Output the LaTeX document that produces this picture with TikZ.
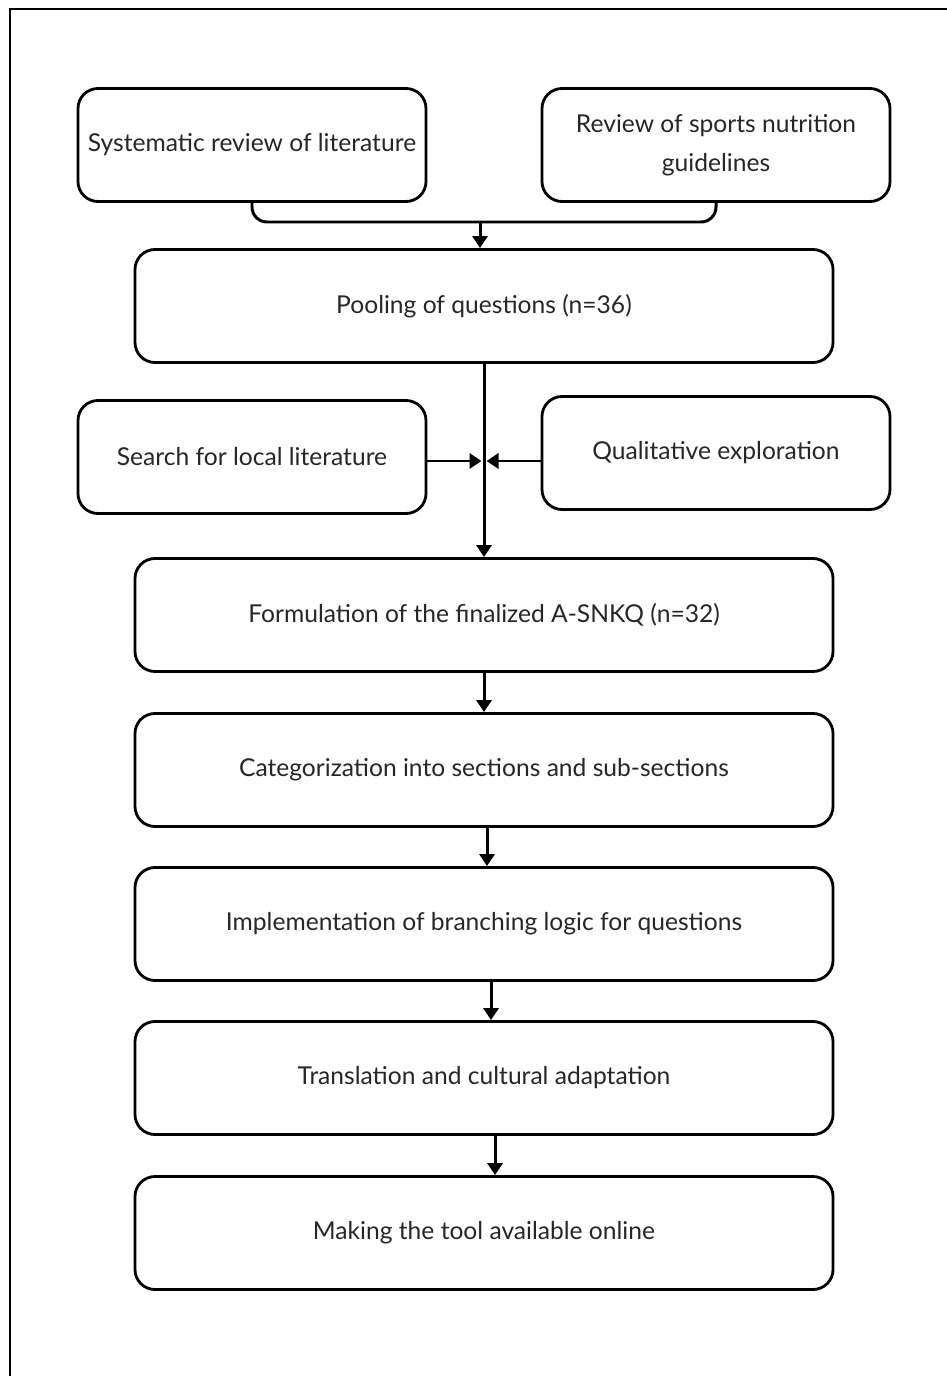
\documentclass[tikz,border=0pt]{standalone}
\usepackage{fontspec}
\setmainfont{Lato}
\usetikzlibrary{arrows.meta}

\begin{document}
\begin{tikzpicture}[x=0.2mm, y=-0.2mm,
  every node/.style = {shape=rectangle, rounded corners=4mm,
    draw, line width=1.6pt, align=center, text=black!85,
    font=\fontsize{14}{22}\selectfont},
  smallbox/.style = {minimum width=69.6mm, minimum height=22.6mm},
  widebox/.style = {minimum width=139.6mm, minimum height=22.6mm},
  link/.style = {line width=1.7pt, -{Triangle[length=2.4mm,width=3mm]}}]
  % page and frame
  \useasboundingbox (0,0) rectangle (946,1376);
  \draw[line width=0.8pt] (950,9) -- (10,9) -- (10,1380);
  % sources
  \node[smallbox] (sysrev) at (252,145) {Systematic review of literature};
  \node[smallbox] (guides) at (716,145) {Review of sports nutrition\\guidelines};
  \node[widebox] (pool) at (484,306) {Pooling of questions (n=36)};
  \node[smallbox] (local) at (252,457) {Search for local literature};
  \node[smallbox] (qual) at (716,453) {Qualitative exploration};
  % steps
  \node[widebox] (formul) at (484,615) {Formulation of the finalized A-SNKQ (n=32)};
  \node[widebox] (categ) at (484,770) {Categorization into sections and sub-sections};
  \node[widebox] (branch) at (484,924) {Implementation of branching logic for questions};
  \node[widebox] (transl) at (484,1078) {Translation and cultural adaptation};
  \node[widebox] (online) at (484,1233) {Making the tool available online};
  % connectors
  \coordinate (join) at (480,222);
  \draw[line width=1.7pt, rounded corners=3mm] (sysrev.south) |- (join) -| (guides.south);
  \draw[link] (join) -- (join |- pool.north);
  \draw[link] (pool.south) -- (formul.north);
  \draw[link] (local.east |- 0,461) -- ([xshift=-0.5mm]pool.south |- 0,461);
  \draw[link] (qual.west |- 0,461) -- ([xshift=0.5mm]pool.south |- 0,461);
  \draw[link] (formul.south) -- (categ.north);
  \draw[link] ([xshift=0.6mm]categ.south) -- ([xshift=0.6mm]branch.north);
  \draw[link] ([xshift=1.4mm]branch.south) -- ([xshift=1.4mm]transl.north);
  \draw[link] ([xshift=2.2mm]transl.south) -- ([xshift=2.2mm]online.north);
\end{tikzpicture}
\end{document}
